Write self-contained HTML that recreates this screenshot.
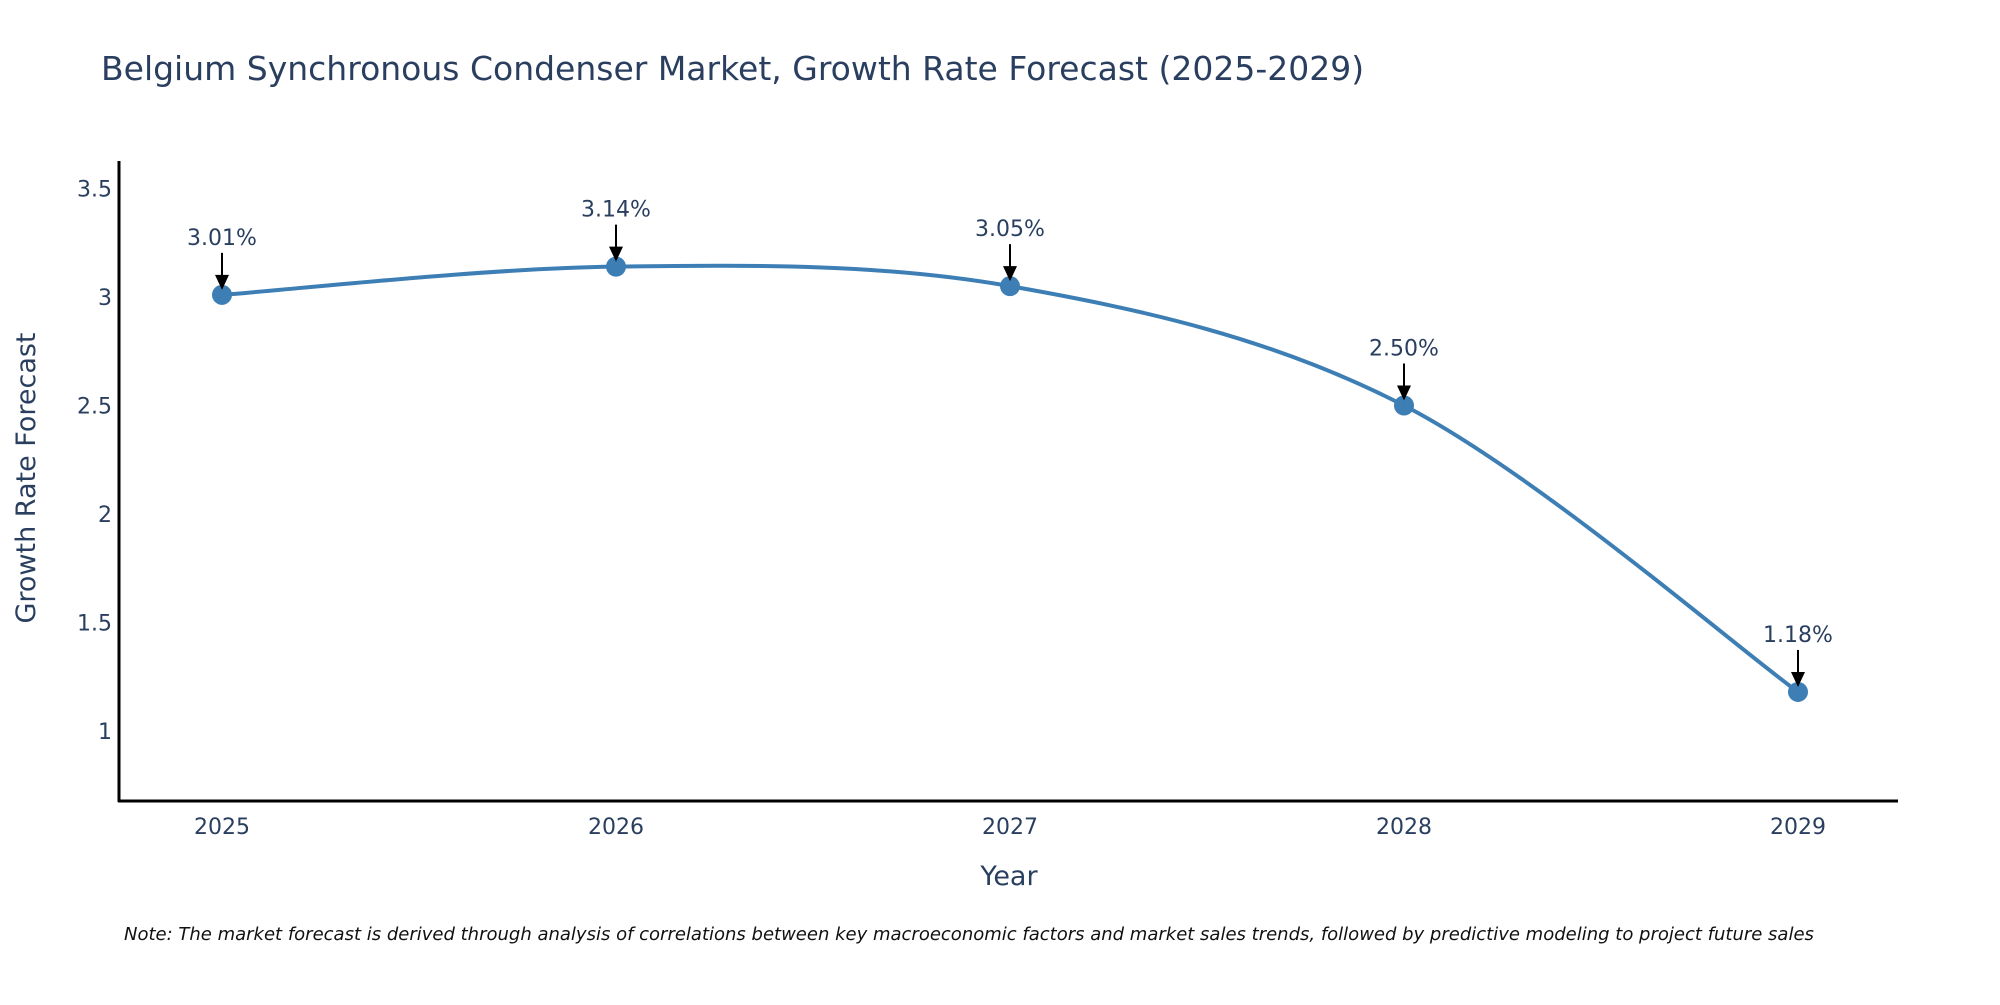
<!DOCTYPE html>
<html><head><meta charset="utf-8"><style>
body{margin:0;background:#fff;}
svg text{font-family:"DejaVu Sans","Liberation Sans",sans-serif;fill:#2a3f5f;}
</style></head><body>
<svg width="2000" height="1000" xmlns="http://www.w3.org/2000/svg">
<text x="101" y="80" font-size="33">Belgium Synchronous Condenser Market, Growth Rate Forecast (2025-2029)</text>
<g id="yticks"></g>
<g id="xticks"></g>
<path id="line" fill="none" stroke="#3d7fb5" stroke-width="4"/>
<g id="marks"></g>
<line x1="119" y1="161" x2="119" y2="802" stroke="#000" stroke-width="3"/>
<line x1="118" y1="801" x2="1898" y2="801" stroke="#000" stroke-width="3"/>
<text x="1009" y="885" font-size="27" text-anchor="middle">Year</text>
<text transform="translate(35,478) rotate(-90)" font-size="27" text-anchor="middle">Growth Rate Forecast</text>
<text x="124" y="940" font-size="18" font-style="italic" style="fill:#111">Note: The market forecast is derived through analysis of correlations between key macroeconomic factors and market sales trends, followed by predictive modeling to project future sales</text>
</svg>
<script>
const years=["2025","2026","2027","2028","2029"];
const values=[3.01,3.14,3.05,2.50,1.18];
const labels=["3.01%","3.14%","3.05%","2.50%","1.18%"];
const yTicks=[1,1.5,2,2.5,3,3.5];
const NS="http://www.w3.org/2000/svg";
function xs(i){return 222+i*(1798-222)/(years.length-1);}
function ys(v){return 948-v*217;}
const yt=document.getElementById('yticks');
yTicks.forEach(t=>{const e=document.createElementNS(NS,'text');


e.setAttribute('x',112);e.setAttribute('y',ys(t)+8);e.setAttribute('font-size','22');e.setAttribute('text-anchor','end');e.textContent=String(t);yt.appendChild(e);});
const xt=document.getElementById('xticks');
years.forEach((y,i)=>{const e=document.createElementNS(NS,'text');


e.setAttribute('x',xs(i));e.setAttribute('y',834);e.setAttribute('font-size','22');e.setAttribute('text-anchor','middle');e.textContent=y;xt.appendChild(e);});
const P=values.map((v,i)=>[xs(i),ys(v)]);
let d='M'+P[0][0]+','+P[0][1];
for(let i=0;i<P.length-1;i++){const p0=P[Math.max(0,i-1)],p1=P[i],p2=P[i+1],p3=P[Math.min(P.length-1,i+2)];const k=1/6;
d+=' C'+(p1[0]+(p2[0]-p0[0])*k)+','+(p1[1]+(p2[1]-p0[1])*k)+' '+(p2[0]-(p3[0]-p1[0])*k)+','+(p2[1]-(p3[1]-p1[1])*k)+' '+p2[0]+','+p2[1];}
document.getElementById('line').setAttribute('d',d);
const mk=document.getElementById('marks');
P.forEach((p,i)=>{
const c=document.createElementNS(NS,'circle');


c.setAttribute('cx',p[0]);c.setAttribute('cy',p[1]);c.setAttribute('r',10);c.setAttribute('fill','#3d7fb5');mk.appendChild(c);
const l=document.createElementNS(NS,'line');


l.setAttribute('x1',p[0]);l.setAttribute('y1',p[1]-42);l.setAttribute('x2',p[0]);l.setAttribute('y2',p[1]-18);l.setAttribute('stroke','#000');l.setAttribute('stroke-width','2');mk.appendChild(l);
const a=document.createElementNS(NS,'path');


a.setAttribute('d','M'+(p[0]-7)+','+(p[1]-20)+' L'+(p[0]+7)+','+(p[1]-20)+' L'+p[0]+','+(p[1]-5)+'Z');a.setAttribute('fill','#000');mk.appendChild(a);
const t=document.createElementNS(NS,'text');


t.setAttribute('x',p[0]);t.setAttribute('y',p[1]-50);t.setAttribute('font-size','22');t.setAttribute('text-anchor','middle');t.textContent=labels[i];mk.appendChild(t);
});
</script>
</body></html>
